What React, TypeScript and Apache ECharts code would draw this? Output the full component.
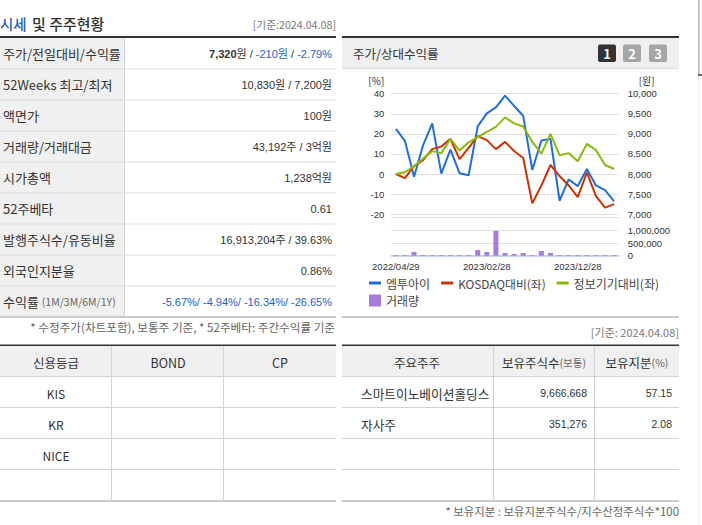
import { useEffect, useRef } from 'react'
import * as echarts from 'echarts'

const FONT = '"Noto Sans CJK KR", "Liberation Sans", sans-serif'
const NUM = '"Liberation Sans", "Noto Sans CJK KR", sans-serif'

// 차트 데이터 (월말 기준)
const months = [
  '2022/04/29', '2022/05/31', '2022/06/30', '2022/07/29', '2022/08/31',
  '2022/09/30', '2022/10/31', '2022/11/30', '2022/12/28', '2023/01/31',
  '2023/02/28', '2023/03/31', '2023/04/28', '2023/05/31', '2023/06/30',
  '2023/07/31', '2023/08/31', '2023/09/27', '2023/10/31', '2023/11/30',
  '2023/12/28', '2024/01/31', '2024/02/29', '2024/03/29', '2024/04/08',
]
const priceWon = [
  9125, 8825, 7935, 8720, 9260, 8010, 8610, 8020, 7970, 9185, 9510, 9660, 9950,
  9695, 9450, 8100, 8835, 8875, 7335, 7865, 7700, 8125, 7715, 7600, 7320,
]
const kosdaqPct = [
  0, -2, 3.9, 6.9, 12.4, 13.7, 17.5, 7.4, 13, 18.9, 16.9, 12.4, 16, 11.5, 8,
  -14.6, -5.7, 4.5, -1, -5.7, -11.5, 0.7, -11, -16.7, -15,
]
const sectorPct = [
  0, 0.9, 3.9, 7.7, 11.4, 10.4, 17.5, 11.7, 15.8, 18.4, 21, 23.5, 28.2, 25.2,
  23.7, 16, 10.2, 20, 9.4, 10.4, 6.4, 15, 11.9, 4.5, 2.5,
]
const volume = [
  27000, 27000, 147000, 27000, 27000, 27000, 27000, 27000, 27000, 227000,
  147000, 987000, 107000, 67000, 107000, 27000, 187000, 107000, 27000, 27000,
  27000, 27000, 27000, 27000, 27000,
]
const tickMonths = [0, 1, 11, 21]

// 표 데이터
const quoteLabels = [
  '주가/전일대비/수익률', '52Weeks 최고/최저', '액면가', '거래량/거래대금', '시가총액',
  '52주베타', '발행주식수/유동비율', '외국인지분율', '수익률 {s|(1M/3M/6M/1Y)}',
]
const quoteValues = [
  '{b|7,320}{d|원 / }{u|-210원}{d| / }{u|-2.79%}', '10,830원 / 7,200원', '100원',
  '43,192주 / 3억원', '1,238억원', '0.61', '16,913,204주 / 39.63%', '0.86%',
  '{u|-5.67%/ -4.94%/ -16.34%/ -26.65%}',
]
const creditHeaders = ['신용등급', 'BOND', 'CP']
const creditAgencies = ['KIS', 'KR', 'NICE', '']
const holderHeaders = ['주요주주', '보유주식수{s|(보통)}', '보유지분{s|(%)}']
const holderNames = ['스마트이노베이션홀딩스', '자사주', '', '']
const holderShares = ['9,666,668', '351,276', '', '']
const holderRatios = ['57.15', '2.08', '', '']

const rich = {
  b: { fontFamily: NUM, fontSize: 11, fontWeight: 'bold' as const, fill: '#333' },
  d: { fontFamily: NUM, fontSize: 11, fill: '#333' },
  u: { fontFamily: NUM, fontSize: 11, fill: '#1a62d6' },
  s: { fontFamily: FONT, fontSize: 10.5, fill: '#666' },
}

function txt(x: number, y: number, text: string, opt: any = {}) {
  return {
    type: 'text',
    x,
    y,
    silent: true,
    style: {
      text,
      fontFamily: opt.font ?? FONT,
      fontSize: opt.size ?? 12,
      fontWeight: opt.weight ?? 'normal',
      fill: opt.color ?? '#333',
      align: opt.align ?? 'left',
      verticalAlign: 'middle',
      rich,
    },
  }
}

function box(x: number, y: number, w: number, h: number, fill: string, r = 0) {
  return { type: 'rect', silent: true, shape: { x, y, width: w, height: h, r }, style: { fill } }
}

function buildPage() {
  const g: any[] = []
  const LINE = '#d2d2d2'

  // 오른쪽 스크롤 영역
  g.push(box(699, 76, 3, 449, '#fcfcfc'), box(698, 76, 1, 449, '#efefef'))
  g.push(box(698, 0, 1.5, 74, '#b4b4b4'), box(698, 74, 4, 2, '#666'))

  // 시세 표
  g.push(txt(0, 23, '시세', { size: 14.5, color: '#2a5cc0', weight: 500 }))
  g.push(txt(32, 23, '및 주주현황', { size: 15, color: '#333', weight: 500 }))
  g.push(txt(336, 24, '[기준:2024.04.08]', { size: 10.7, color: '#777', align: 'right' }))
  g.push(box(0, 37.5, 124, 279, '#f0f0f0'))
  g.push(box(0, 36, 336, 2, '#333'))
  g.push(box(124, 38, 1, 278, LINE))
  quoteLabels.forEach((label, i) => {
    const y = 37.5 + 31 * i
    g.push(txt(3, y + 16, label, { size: 13 }))
    g.push(txt(332, y + 16, quoteValues[i], { size: 11, align: 'right', font: NUM }))
    if (i < quoteLabels.length - 1) g.push(box(0, y + 31, 336, 1, '#dcdcdc'))
  })
  g.push(box(0, 316, 336, 2, '#cccccc'))
  g.push(txt(335, 327, '* 수정주가(차트포함), 보통주 기준, * 52주베타: 주간수익률 기준', { size: 11.6, color: '#666', align: 'right' }))

  // 신용등급 표 / 주요주주 표
  const rowLines = [376, 407, 438, 469]
  const drawFrame = (x: number, w: number, dividers: number[]) => {
    g.push(box(x, 346, w, 30, '#f0f0f0'))
    g.push(box(x, 344.5, w, 1.5, '#333'))
    rowLines.forEach((y) => g.push(box(x, y, w, 1, LINE)))
    g.push(box(x, 500, w, 2, '#cccccc'))
    dividers.forEach((d) => g.push(box(d, 346, 1, 154, LINE)))
  }
  drawFrame(0, 336, [111, 223])
  drawFrame(342, 337, [493, 594])

  const creditCols = [56, 168, 280]
  creditHeaders.forEach((h, i) => g.push(txt(creditCols[i], 362, h, { align: 'center', size: 12.5 })))
  creditAgencies.forEach((a, i) => {
    if (a) g.push(txt(56, 393 + 31 * i, a, { align: 'center', size: 12 }))
  })
  const holderCols = [417, 544, 637]
  holderHeaders.forEach((h, i) => g.push(txt(holderCols[i], 362, h, { align: 'center', size: 12.5 })))
  holderNames.forEach((n, i) => {
    if (!n) return
    const y = 393 + 31 * i
    g.push(txt(361, y, n, { size: 12.7 }))
    g.push(txt(587, y, holderShares[i], { size: 10.5, align: 'right', font: NUM }))
    g.push(txt(672, y, holderRatios[i], { size: 10.5, align: 'right', font: NUM }))
  })
  g.push(txt(679, 511, '* 보유지분 : 보유지분주식수/지수산정주식수*100', { size: 11.4, color: '#666', align: 'right' }))

  // 차트 패널
  g.push(box(342, 38, 337, 30, '#efefef'), box(342, 68, 337, 1, '#dddddd'), box(342, 36, 337, 2, '#333'))
  g.push(txt(353, 53, '주가/상대수익률', { size: 12.5 }))
  const btnX = [598, 623, 649]
  ;['1', '2', '3'].forEach((n, i) => {
    g.push(box(btnX[i], 44.5, 18, 17.5, i === 0 ? '#333333' : '#a6a6a6', 2))
    g.push(txt(btnX[i] + 9, 53.5, n, { size: 13, weight: 'bold', color: '#fff', align: 'center' }))
  })
  g.push(box(342, 316, 337, 2, '#c8c8c8'))
  g.push(txt(679, 332, '[기준: 2024.04.08]', { size: 11, color: '#777', align: 'right' }))
  return g
}

function fmt(v: number) {
  return v.toLocaleString('en-US')
}

export default function App() {
  const ref = useRef<HTMLDivElement>(null)

  useEffect(() => {
    if (!ref.current) return
    const chart = echarts.init(ref.current, undefined, { renderer: 'svg' })
    const GRID = '#e0e0e0'
    const label = { fontFamily: NUM, fontSize: 9.5, color: '#333' }
    const gridBox = { left: 391.3, width: 227.4 }

    chart.setOption({
      animation: false,
      textStyle: { fontFamily: FONT },
      graphic: buildPage(),
      grid: [
        { ...gridBox, top: 93.7, height: 120.5 },
        { ...gridBox, top: 230.5, height: 25.2 },
      ],
      legend: [
        {
          data: [
            { name: '엠투아이' },
            { name: 'KOSDAQ대비(좌)', textStyle: { fontSize: 11.8 } },
            { name: '정보기기대비(좌)' },
          ],
          left: 369,
          top: 277,
          padding: 0,
          icon: 'rect',
          itemWidth: 12,
          itemHeight: 3,
          itemGap: 11,
          textStyle: { fontFamily: FONT, fontSize: 12, color: '#444' },
        },
        {
          data: ['거래량'],
          left: 369,
          top: 294.5,
          padding: 0,
          icon: 'rect',
          itemWidth: 12,
          itemHeight: 12,
          textStyle: { fontFamily: FONT, fontSize: 12, color: '#444' },
        },
      ],
      xAxis: [
        {
          type: 'category',
          gridIndex: 0,
          data: months,
          offset: 3,
          axisLine: { lineStyle: { color: GRID, width: 1 }, onZero: false },
          axisTick: { show: false },
          axisLabel: { show: false },
        },
        {
          type: 'category',
          gridIndex: 1,
          data: months,
          axisLine: { lineStyle: { color: '#b9cde5', width: 1.5 } },
          axisTick: {
            length: 4,
            lineStyle: { color: '#b9cde5' },
            interval: (i: number) => tickMonths.includes(i),
          },
          axisLabel: { ...label, interval: 9, margin: 6, hideOverlap: false },
        },
      ],
      yAxis: [
        {
          type: 'value',
          gridIndex: 0,
          position: 'left',
          min: -20,
          max: 40,
          interval: 10,
          name: '[%]',
          nameGap: 8,
          nameTextStyle: { ...label, fontFamily: FONT, fontSize: 10, lineHeight: 10, align: 'right', padding: [0, 7, 0, 0] },
          axisLine: { show: false },
          axisTick: { show: false },
          axisLabel: { ...label, margin: 7 },
          splitLine: { lineStyle: { color: GRID, width: 1 } },
        },
        {
          type: 'value',
          gridIndex: 0,
          position: 'right',
          min: 7000,
          max: 10000,
          interval: 500,
          name: '[원]',
          nameGap: 8,
          nameTextStyle: { ...label, fontFamily: FONT, fontSize: 10, lineHeight: 10, align: 'left', padding: [0, 0, 0, 20] },
          axisLine: { show: false },
          axisTick: { show: false },
          axisLabel: { ...label, margin: 9, formatter: fmt },
          splitLine: { show: false },
        },
        {
          type: 'value',
          gridIndex: 1,
          position: 'right',
          min: 0,
          max: 1000000,
          interval: 500000,
          axisLine: { show: false },
          axisTick: { show: false },
          axisLabel: { ...label, margin: 9, formatter: fmt },
          splitLine: { lineStyle: { color: GRID, width: 1 } },
        },
      ],
      series: [
        {
          name: '엠투아이',
          type: 'line',
          xAxisIndex: 0,
          yAxisIndex: 1,
          data: priceWon,
          symbol: 'none',
          itemStyle: { color: '#1f6fdc' },
          lineStyle: { width: 2, color: '#1f6fdc' },
        },
        {
          name: 'KOSDAQ대비(좌)',
          type: 'line',
          xAxisIndex: 0,
          yAxisIndex: 0,
          data: kosdaqPct,
          symbol: 'none',
          itemStyle: { color: '#cc3300' },
          lineStyle: { width: 2, color: '#cc3300' },
        },
        {
          name: '정보기기대비(좌)',
          type: 'line',
          xAxisIndex: 0,
          yAxisIndex: 0,
          data: sectorPct,
          symbol: 'none',
          itemStyle: { color: '#88bb0a' },
          lineStyle: { width: 2, color: '#88bb0a' },
        },
        {
          name: '거래량',
          type: 'bar',
          xAxisIndex: 1,
          yAxisIndex: 2,
          data: volume,
          barWidth: 5,
          itemStyle: { color: '#a77ddc' },
        },
      ],
    })

    return () => chart.dispose()
  }, [])

  return (
    <div
      ref={ref}
      style={{ position: 'absolute', left: 0, top: 0, width: 702, height: 525, background: '#fff' }}
    />
  )
}
